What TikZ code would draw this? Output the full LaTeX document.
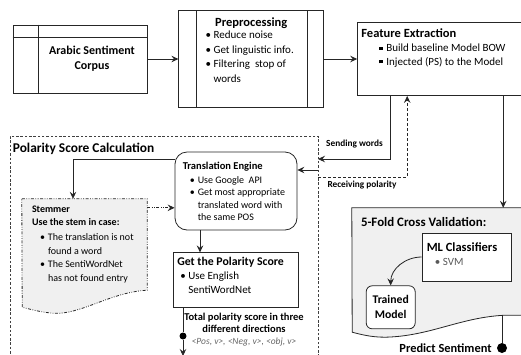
\documentclass[tikz,border=0pt]{standalone}
\usepackage{fontspec}
\setmainfont{Carlito}
\usetikzlibrary{arrows.meta,positioning,calc}

\newcommand{\bul}{\makebox[8pt][l]{\textbullet}}
\newcommand{\sqb}{\makebox[7pt][l]{\rule[1.6pt]{3.2pt}{3.2pt}}}

\begin{document}
\begin{tikzpicture}[
        x=1pt, y=1pt,
        line/.style={draw=black!85, line width=0.8pt},
        arr/.style={line, -{Stealth[length=7pt, width=6.5pt, inset=2.5pt]}},
        box/.style={rectangle, line, fill=white, inner sep=0pt},
        rbox/.style={box, rounded corners=12pt},
        shade/.style={rectangle, inner sep=0pt},
        txt/.style={inner sep=0pt, align=left},
        dashdot/.style={dash pattern=on 3pt off 1.5pt on 0.8pt off 1.5pt on 0.8pt off 1.5pt},
        region/.style={rectangle, draw=black!75, line width=0.7pt, dash pattern=on 2.5pt off 1.8pt, inner sep=0pt},
        dot/.style={circle, fill=black, inner sep=0pt, minimum size=7pt},
        lbl/.style={inner sep=0pt, font=\fontsize{9.3}{11}\selectfont\bfseries}
    ]
    \useasboundingbox (0,0) rectangle (521,-354);
    \clip (0,0) rectangle (521,-354);

    % Top row
    \node[box, minimum width=134pt, minimum height=68pt] (corpus) at (80,-59) {};
    \draw[line] ([xshift=26pt]corpus.north west) -- ([xshift=26pt]corpus.south west);
    \draw[line] ([yshift=-13pt]corpus.north west) -- ([yshift=-13pt]corpus.north east);
    \node[txt, align=center, font=\fontsize{12}{15}\selectfont\bfseries] (corpus text) at ([xshift=12pt]corpus.center) {Arabic Sentiment\\Corpus};

    \node[box, right=31pt of corpus, minimum width=145pt, minimum height=97pt] (prep) {};
    \draw[line] ([xshift=18pt]prep.north west) -- ([xshift=18pt]prep.south west);
    \draw[line] ([xshift=-17pt]prep.north east) -- ([xshift=-17pt]prep.south east);
    \node[txt, font=\fontsize{12.5}{15}\selectfont\bfseries, below=7pt of prep.north] (prep head) {Preprocessing};
    \node[txt, font=\fontsize{11}{14.5}\selectfont, below right=21pt and 27pt of prep.north west] (prep list)
        {\bul Reduce noise\\ \bul Get linguistic info.\\ \bul Filtering~ stop of\\ \hspace*{8pt}words};

    \node[box, right=33pt of prep, minimum width=180pt, minimum height=73pt] (feat) {};
    \node[txt, font=\fontsize{11}{13.5}\selectfont, below right=6pt and 4pt of feat.north west] (feat text)
        {{\fontsize{12.5}{15}\selectfont\bfseries Feature Extraction}\\[1pt]
         \hspace*{18pt}\sqb Build baseline Model BOW\\ \hspace*{18pt}\sqb Injected (PS) to the Model};

    % Polarity score calculation
    \node[region, minimum width=308pt, minimum height=244pt] (psc) at (164,-258) {};
    \node[txt, font=\fontsize{13.4}{16}\selectfont\bfseries, below right=7pt and 3pt of psc.north west] (psc title) {Polarity Score Calculation};

    \node[rbox, minimum width=122pt, minimum height=78pt] (te) at (236,-191) {};
    \node[txt, font=\fontsize{10}{12.5}\selectfont, below right=10pt and 8pt of te.north west] (te text)
        {{\fontsize{10.5}{13}\selectfont\bfseries Translation Engine}\\[1.5pt]
         \hspace*{7pt}\bul Use Google~ API\\ \hspace*{7pt}\bul Get most appropriate\\
         \hspace*{15pt}translated word with\\ \hspace*{15pt}the same POS};

    \node[shade, minimum width=125pt, minimum height=91pt] (stem) at (84.5,-244.5) {};
    \draw[line, dashdot, fill=black!6] (stem.north west) -- (stem.north east) -- (stem.south east)
        .. controls +(-37,-2) and +(27,-2) .. ++(-94,-23)
        .. controls +(-13,1) and +(8,-2) .. ++(-31,6) -- cycle;
    \node[txt, font=\fontsize{10}{13.5}\selectfont, below right=6.5pt and 10pt of stem.north west] (stem text)
        {\textbf{Stemmer}\\ \textbf{Use the stem in case:}\\[1.5pt]
         \hspace*{8pt}\bul The translation is not\\ \hspace*{16pt}found a word\\
         \hspace*{8pt}\bul The SentiWordNet\\ \hspace*{16pt}has not found entry};

    \node[box, below=22pt of te, minimum width=125pt, minimum height=55pt] (gp) {};
    \node[txt, font=\fontsize{11}{14}\selectfont, below right=5pt and 4pt of gp.north west] (gp text)
        {{\fontsize{11.8}{14}\selectfont\bfseries Get the Polarity Score}\\
         \hspace*{3pt}\bul Use English\\ \hspace*{11pt}SentiWordNet};

    \node[dot] (sdot) at (183,-336) {};
    \coordinate (score out) at (183,-356);
    \node[txt, align=center, font=\fontsize{10.5}{12}\selectfont\bfseries] (total) at (244,-330)
        {Total polarity score in three\\different directions\\
         {\fontsize{9.5}{11}\selectfont\mdseries\itshape\color{black!60}<Pos, v>, <Neg, v>, <obj, v>}};

    % Cross validation
    \node[shade, minimum width=183pt, minimum height=107pt] (cv) at (443.5,-261.5) {};
    \draw[line, fill=black!6] (cv.south east) -- ++(-30,0)
        .. controls +(-45,-2) and +(45,1) .. ++(-120,-22)
        .. controls +(-15,0) and +(8,-2) .. ++(-33,5)
        -- (cv.north west) -- (cv.north east) -- cycle;
    \node[txt, font=\fontsize{12.9}{15}\selectfont\bfseries, below right=9pt and 9pt of cv.north west] (cv title) {5-Fold Cross Validation:};

    \node[box, minimum width=89pt, minimum height=48pt] (ml) at (466.5,-257) {};
    \node[txt, font=\fontsize{11}{14}\selectfont, below right=9.5pt and 5pt of ml.north west] (ml text)
        {{\fontsize{12.5}{15}\selectfont\bfseries ML Classifiers}\\
         \hspace*{8pt}\textcolor{black!65}{\bul SVM}};
    \node[box, rounded corners=6pt, below left=4pt and 6pt of ml.south west, minimum width=49pt, minimum height=43pt,
          align=center, font=\fontsize{11.7}{15}\selectfont\bfseries] (trained) {Trained\\Model};

    \node[dot, minimum size=10pt] (pdot) at (502,-348) {};
    \node[txt, font=\fontsize{12.4}{14}\selectfont\bfseries, left=5pt of pdot] (predict) {Predict Sentiment};

    % Free ends on the dashed border
    \coordinate (send in) at (318,-159);
    \coordinate (recv in) at (318,-170);
    \coordinate (recv out) at (318,-177);

    % Connections
    \draw[arr] (corpus) -- (prep);
    \draw[arr] (prep) -- (feat);
    \draw[arr] ([xshift=33pt]feat.south west) |- (send in);
    \draw[arr] (recv in) -- (recv in -| te.east);
    \draw[arr, dash pattern=on 3pt off 2pt] (recv out) -| ([xshift=50pt]feat.south west);
    \draw[arr] ([yshift=-8pt]te.north west) -| ([xshift=-11.5pt]stem.north);
    \draw[arr, dashdot] ([yshift=-9pt]stem.north east) coordinate (dd) -- (dd -| te.west);
    \draw[arr] ([xshift=-36pt]te.south) -- ([xshift=-36pt]te.south |- gp.north);
    \draw[line] (gp.south -| sdot) -- (sdot);
    \draw[arr] (sdot) -- (score out);
    \draw[arr] ([xshift=146pt]feat.south west) -- ([xshift=146pt]feat.south west |- cv.north);
    \draw[arr] (ml.west) to[out=180, in=90] (trained.north);
    \draw[line] (cv.south -| pdot) -- (pdot);

    \node[lbl] (send lbl) at (354.5,-144) {Sending words};
    \node[lbl] (recv lbl) at (362,-185) {Receiving polarity};

\end{tikzpicture}
\end{document}
